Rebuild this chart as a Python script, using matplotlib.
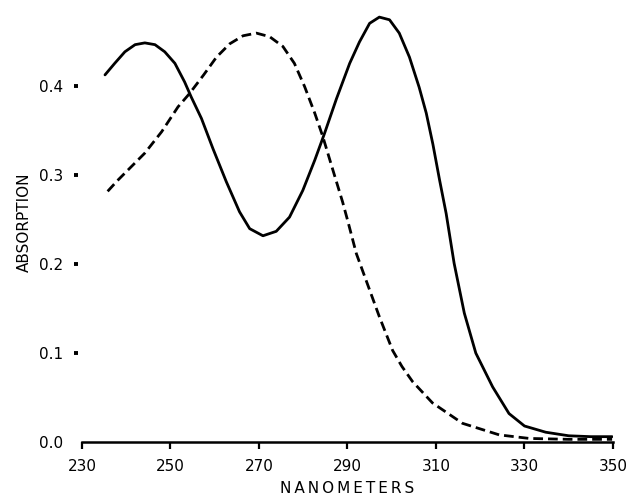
import matplotlib

matplotlib.use("Agg")
import matplotlib.pyplot as plt

# wavelength (nm) and absorption
solid_nm = [235.2, 237.4, 239.7, 242.0, 244.2, 246.5, 248.7, 251.0, 253.2, 254.7,
            257.0, 259.6, 262.6, 265.6, 267.9, 270.9, 273.9, 276.9, 279.9, 282.6,
            284.8, 287.5, 290.5, 292.7, 295.0, 297.2, 299.5, 301.7, 304.0, 306.2,
            307.8, 309.3, 310.8, 312.3, 314.1, 316.4, 319.0, 322.8, 326.5, 330.0,
            334.8, 340.0, 345.0, 349.8]
solid_abs = [0.413, 0.426, 0.439, 0.447, 0.449, 0.447, 0.439, 0.426, 0.405, 0.388,
             0.364, 0.330, 0.293, 0.259, 0.240, 0.232, 0.237, 0.253, 0.283, 0.317,
             0.347, 0.386, 0.426, 0.450, 0.471, 0.478, 0.475, 0.460, 0.433, 0.399,
             0.370, 0.335, 0.295, 0.257, 0.201, 0.145, 0.100, 0.062, 0.032, 0.018,
             0.011, 0.007, 0.006, 0.006]

dashed_nm = [235.8, 238.0, 240.4, 244.2, 248.0, 251.7, 254.3, 257.5, 260.4, 263.4,
             266.4, 269.4, 272.4, 275.4, 278.0, 280.3, 282.6, 284.4, 286.7, 288.9,
             290.1, 292.0, 297.2, 300.2, 302.3, 304.7, 309.2, 316.0, 324.3, 331.1,
             340.0, 349.8]
dashed_abs = [0.282, 0.294, 0.306, 0.325, 0.349, 0.377, 0.392, 0.413, 0.433, 0.448,
              0.457, 0.460, 0.456, 0.445, 0.426, 0.400, 0.370, 0.344, 0.306, 0.270,
              0.248, 0.212, 0.141, 0.103, 0.085, 0.068, 0.044, 0.021, 0.008, 0.004,
              0.003, 0.003]

x_ticks = [230, 250, 270, 290, 310, 330, 350]
y_ticks = [0.0, 0.1, 0.2, 0.3, 0.4]
y_tick_labels = ["0.0", "0.1", "0.2", "0.3", "0.4"]

plt.rcParams["font.family"] = ["DejaVu Sans"]

fig = plt.figure(figsize=(6.33, 5.0), dpi=100)
ax = fig.add_axes([0.1295, 0.116, 0.8389, 0.88])

ax.plot(solid_nm, solid_abs, color="black", lw=2.0,
        solid_capstyle="round", solid_joinstyle="round")
ax.plot(dashed_nm, dashed_abs, color="black", lw=2.0, dashes=(3.5, 1.8),
        dash_joinstyle="round")

ax.set_xlim(230, 350)
ax.set_ylim(0, 0.495)

for side in ("top", "right"):
    ax.spines[side].set_visible(False)
ax.spines["left"].set_position(("outward", 3))
ax.spines["left"].set_visible(False)
ax.spines["bottom"].set_linewidth(1.8)

ax.set_xticks(x_ticks)
ax.set_yticks(y_ticks)
ax.set_yticklabels(y_tick_labels)
ax.tick_params(axis="x", direction="out", length=5, width=1.6, pad=7, labelsize=11)
ax.tick_params(axis="y", direction="out", length=2.8, width=2.8, pad=8, labelsize=11)
ax.yaxis.get_major_ticks()[0].tick1line.set_visible(False)

ax.set_xlabel("\u2009".join("NANOMETERS"), fontsize=11, labelpad=5)
ax.set_ylabel("ABSORPTION", fontsize=11, labelpad=5)

fig.savefig("out.png", dpi=100)
